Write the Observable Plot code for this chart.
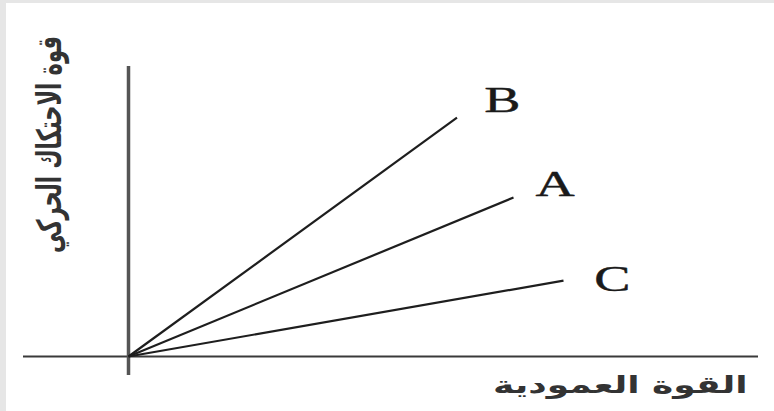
<!DOCTYPE html>
<html>
<head>
<meta charset="utf-8">
<script src="https://cdn.jsdelivr.net/npm/d3@7"></script>
<script src="https://cdn.jsdelivr.net/npm/@observablehq/plot@0.6"></script>
<style>
  html, body { margin: 0; padding: 0; background: #fff; }
  #wrap { position: relative; width: 774px; height: 411px; overflow: hidden; }
  #edgeL { position: absolute; left: 0; top: 0; width: 6px; height: 411px; background: #e6e6e6; }
  #edgeT { position: absolute; left: 0; top: 0; width: 774px; height: 3px; background: #e6e6e6; }
</style>
</head>
<body>
<div id="wrap"><div id="chart"></div><div id="edgeL"></div><div id="edgeT"></div></div>
<script>
// Series (surfaces) and the end point of each straight line from the origin
const series = ["A", "B", "C"];
const normalEnd = [7.7, 6.57, 8.7];      // normal force at line end
const frictionEnd = [5.3, 7.96, 2.53];   // kinetic friction at line end
// Where each series letter sits (data units)
const labelNormal = [8.54, 7.48, 9.68];
const labelFriction = [5.72, 8.52, 2.55];
// Axis titles
const xTitle = "القوة العمودية";
const yTitle = "قوة الاحتكاك الحركي";

const segs = series.map((s, i) => ({s, x1: 0, y1: 0, x2: normalEnd[i], y2: frictionEnd[i]}));
const labs = series.map((s, i) => ({s, x: labelNormal[i], y: labelFriction[i]}));

const chart = Plot.plot({
  width: 774,
  height: 411,
  margin: 0,
  x: {domain: [0, 10], range: [128, 628], axis: null},
  y: {domain: [0, 10], range: [356, 56], axis: null},
  style: {background: "transparent"},
  marks: [
    Plot.ruleY([0], {x1: -2.1, x2: 12.6, stroke: "#3a3a3a", strokeWidth: 2.2}),
    Plot.ruleX([0], {y1: -0.63, y2: 9.67, stroke: "#555", strokeWidth: 3.5}),
    Plot.link(segs, {x1: "x1", y1: "y1", x2: "x2", y2: "y2", stroke: "#1e1e1e", strokeWidth: 2.2}),
    Plot.text(labs, {x: "x", y: "y", text: "s", fontSize: 35, fontFamily: "Liberation Serif", fill: "#1a1a1a", stroke: "#1a1a1a", strokeWidth: 0.4, textAnchor: "middle"}),
    Plot.text([xTitle], {x: 9.84, y: -0.97, text: d => d, fontSize: 24, fontWeight: "bold", fontFamily: "DejaVu Sans", fill: "#333", textAnchor: "middle"}),
    Plot.text([yTitle], {x: -1.56, y: 7.07, text: d => d, rotate: -90, fontSize: 27, fontWeight: "bold", fontFamily: "DejaVu Sans", fill: "#333", textAnchor: "middle"})
  ]
});
document.getElementById("chart").appendChild(chart);

// Stretch text about its own centre to match the horizontally widened lettering of the original
function stretch(str, sx, sy) {
  d3.select(chart).selectAll("text").filter(function () { return this.textContent === str; })
    .each(function () {
      const g = this.parentNode;
      const wrapper = document.createElementNS("http://www.w3.org/2000/svg", "g");
      g.insertBefore(wrapper, this);
      wrapper.appendChild(this);
      const r = this.getBoundingClientRect(), s = chart.getBoundingClientRect();
      const X = r.left - s.left + r.width / 2, Y = r.top - s.top + r.height / 2;
      wrapper.setAttribute("transform", `translate(${X},${Y}) scale(${sx},${sy}) translate(${-X},${-Y})`);
    });
}
stretch(xTitle, 1.5, 1.0);
stretch(yTitle, 1.25, 0.78);
series.forEach(s => stretch(s, 1.55, 1.0));
</script>
</body>
</html>
